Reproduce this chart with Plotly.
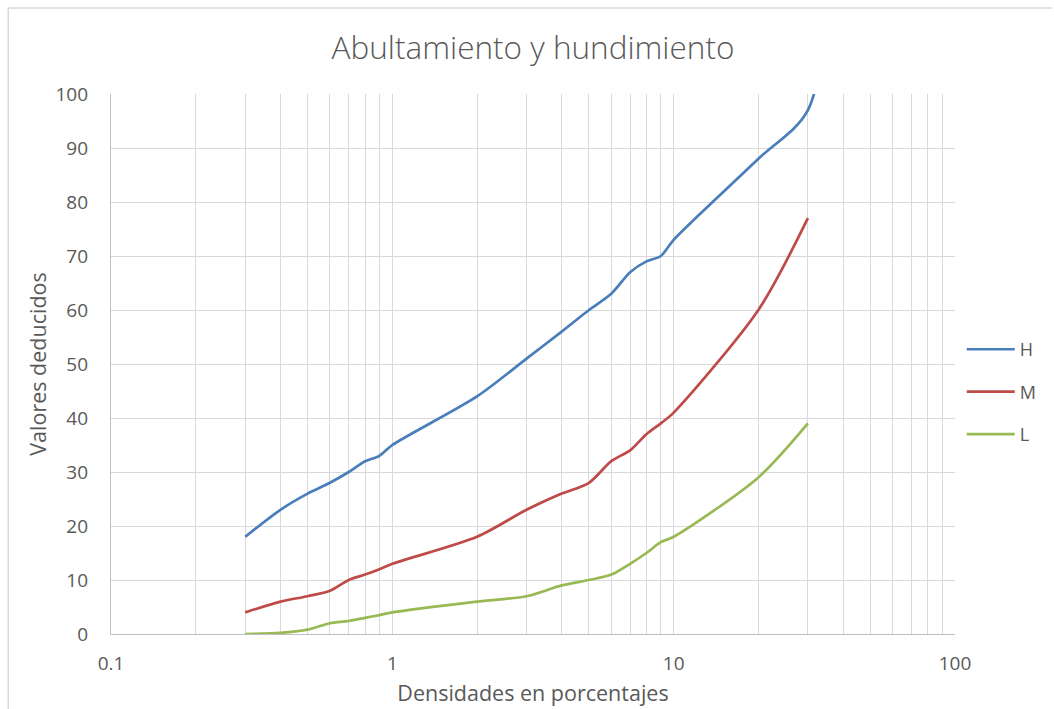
import plotly.graph_objects as go

# Densidad del daño (%) y valores deducidos por nivel de severidad
densidad = [0.3, 0.4, 0.5, 0.6, 0.7, 0.8, 0.9, 1, 2, 3, 4, 5, 6, 7, 8, 9, 10, 20, 30]
densidad_h = densidad + [40]
valores_h = [18, 23, 26, 28, 30, 32, 33, 35, 44, 51, 56, 60, 63, 67, 69, 70, 73, 88, 97, 140]
valores_m = [4, 6, 7, 8, 10, 11, 12, 13, 18, 23, 26, 28, 32, 34, 37, 39, 41, 60, 77]
valores_l = [0, 0.2, 0.8, 2, 2.4, 3, 3.5, 4, 6, 7, 9, 10, 11, 13, 15, 17, 18, 29, 39]

# Rejilla logarítmica: 1..9 en cada década, etiqueta sólo en las potencias de 10
grid_x = [m * 10 ** e for e in (-1, 0, 1) for m in range(1, 10)] + [100]
etiquetas_x = ["0.1" if v == 0.1 else ("1" if v == 1 else ("10" if v == 10 else ("100" if v == 100 else ""))) for v in grid_x]
ticks_y = list(range(0, 101, 10))

series = [
    ("H", densidad_h, valores_h, "#4A7EBB"),
    ("M", densidad, valores_m, "#BE4B48"),
    ("L", densidad, valores_l, "#98B954"),
]

fig = go.Figure()
for nombre, xs, ys, color in series:
    fig.add_trace(go.Scatter(
        x=xs, y=ys, name=nombre, mode="lines",
        line=dict(color=color, width=2.7, shape="spline", smoothing=0.8),
        legendgroup=nombre,
    ))

gris_texto = "#595959"
gris_rejilla = "#d9d9d9"
fuente = "'Open Sans', Lato, sans-serif"

fig.update_layout(
    width=1054, height=709,
    margin=dict(l=111, r=97, t=94, b=75),
    paper_bgcolor="white", plot_bgcolor="white",
    font=dict(family=fuente, color=gris_texto, size=18),
    title=dict(
        text="Abultamiento y hundimiento",
        x=0.5, xref="paper", xanchor="center",
        y=1 - 48 / 709, yref="container", yanchor="middle",
        font=dict(size=31.5, color=gris_texto, family=fuente, weight=300),
    ),
    legend=dict(
        x=1.008, xanchor="left", y=0.561, yanchor="top",
        font=dict(size=18, color=gris_texto),
        itemwidth=48, tracegroupgap=16,
        bgcolor="rgba(0,0,0,0)",
    ),
    showlegend=True,
)

fig.update_xaxes(
    type="log", range=[-1, 2], automargin=False,
    tickmode="array", tickvals=grid_x, ticktext=etiquetas_x,
    showgrid=True, gridcolor=gris_rejilla, gridwidth=1.3,
    showline=True, linecolor="#bfbfbf", linewidth=1.3,
    ticks="outside", ticklen=12, tickcolor="rgba(0,0,0,0)",
    tickfont=dict(size=19, color=gris_texto),
    title=dict(text="Densidades en porcentajes", font=dict(size=21.5, color=gris_texto), standoff=10),
    zeroline=False, mirror=False,
)
fig.update_yaxes(
    range=[0, 100], automargin=False,
    tickmode="array", tickvals=ticks_y,
    showgrid=True, gridcolor=gris_rejilla, gridwidth=1.3,
    showline=True, linecolor="#bfbfbf", linewidth=1.3,
    ticks="outside", ticklen=18, tickcolor="rgba(0,0,0,0)",
    tickfont=dict(size=19, color=gris_texto),
    title=dict(text="Valores deducidos", font=dict(size=21.5, color=gris_texto), standoff=2),
    zeroline=False,
)

# Borde del área del gráfico (superior e izquierdo)
ancho_plot = 1054 - 111 - 97
alto_plot = 709 - 94 - 75
x_borde = (8 - 111) / ancho_plot
y_borde = (709 - 8 - 75) / alto_plot
fig.add_shape(type="line", xref="paper", yref="paper",
              x0=x_borde, x1=(1054 - 111) / ancho_plot, y0=y_borde, y1=y_borde,
              line=dict(color=gris_rejilla, width=1.5))
fig.add_shape(type="line", xref="paper", yref="paper",
              x0=x_borde, x1=x_borde, y0=y_borde, y1=-75 / alto_plot,
              line=dict(color=gris_rejilla, width=1.5))

fig.write_html("out.html")
